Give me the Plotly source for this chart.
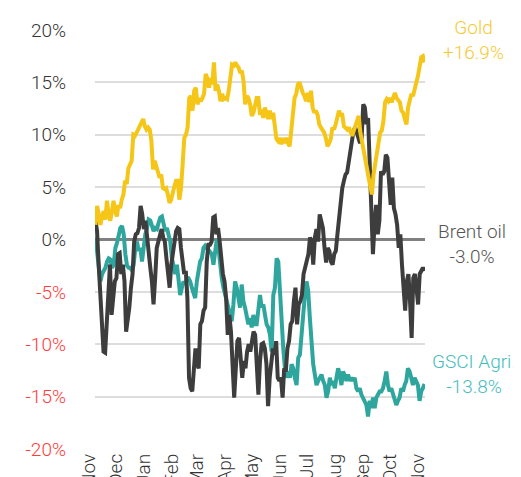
import plotly.graph_objects as go
import pandas as pd

start_date = "2018-11-01"
end_date = "2019-11-01"
month_range = ["2018-10-31 12:00", "2019-11-01 12:00"]

gold = [1.4, 3.2, 2.4, 1.4, 2.2, 2.7, 1.9, 3.7, 2.4, 1.8, 2.7, 3.7, 2.7, 2.2, 3.3, 3.0, 3.8, 4.3, 5.6, 5.3,
        6.8, 7.2, 7.5, 10.0, 9.9, 10.2, 10.5, 10.8, 11.0, 11.5, 10.8, 10.5, 10.7, 10.5, 9.4, 6.7, 7.5, 7.0, 6.2, 5.9,
        6.2, 4.9, 4.8, 4.9, 4.3, 3.5, 3.8, 4.6, 5.1, 5.6,
        5.6, 3.8, 4.9, 7.2, 9.7, 10.0, 10.7, 13.5, 13.7, 12.3, 14.2, 14.5, 12.9, 13.5, 13.2, 13.5, 13.9, 15.8, 15.4, 14.5,
        15.4, 14.8, 16.9, 14.2, 14.8, 14.2, 13.2, 13.9, 13.4, 13.5, 13.4, 14.2, 15.4, 16.7, 16.6, 16.9, 16.6, 16.4, 15.9, 16.1,
        15.1, 12.9, 13.7, 13.5, 12.9, 11.8, 12.1, 12.7, 13.5,
        13.5, 11.9, 12.4, 11.6, 12.6, 11.9, 11.5, 12.3, 11.5, 12.1, 11.0, 9.6, 9.4, 9.7, 9.1, 9.7, 9.2, 9.7, 9.2, 8.9,
        10.4, 12.6, 13.5, 13.9, 14.8, 15.0, 14.3, 14.0, 13.7, 13.2, 14.0, 13.1, 14.2, 12.6, 12.1, 12.3, 11.9, 11.0, 10.7, 10.5,
        10.2, 9.7, 8.9, 9.2, 9.6, 10.7, 10.5, 11.0, 11.5, 12.3, 11.9,
        11.9, 10.8, 10.7, 10.5, 10.7, 10.4, 9.9, 10.4, 10.8, 11.3, 11.8, 10.2, 9.4, 8.8, 8.1, 6.8, 5.9, 4.9, 4.3, 6.2,
        7.2, 7.8, 9.1, 10.2, 10.4, 11.3, 13.1, 13.4, 13.2, 13.5, 13.1, 13.5, 14.0, 13.5, 13.2, 13.1, 12.3, 12.1, 11.5, 11.0,
        12.6, 13.1, 13.9, 13.7, 14.6, 15.0, 15.6, 16.4, 17.4, 17.5, 16.9]

brent = [1.8, 0.8, -2.4, -5.6, -9.4, -10.7, -10.8, -7.8, -4.0, -2.4, -7.2, -4.9, -4.0, -3.7, -1.4, -1.3, -3.3, -2.4, -4.0, -8.8,
         -7.8, -6.5, -4.6, -3.3, -0.2, 0.5, 0.6, 1.1, 3.2, 2.4, 1.0, 1.8, 0.3, -1.8, -2.7, -4.0, -6.2, -3.7, -0.8, -0.2,
         0.5, 1.0, 0.2, -0.2, -1.8, -3.3, -4.6, -2.4, -1.4, -0.5, 0.8, 1.1,
         1.0, -0.8, -2.4, -3.3, -3.0, -5.6, -13.2, -14.2, -14.5, -12.9, -10.4, -11.9, -12.3, -8.1, -7.8, -6.8, -6.5, -2.1, -0.5, -0.5,
         -0.2, 2.1, 2.2, 0.5, 1.1, -0.2, -2.1, -3.3, -4.0, -5.6, -9.1, -7.2, -8.8, -11.3, -15.1, -12.3, -9.7, -9.4, -11.3, -13.2,
         -11.6, -12.3, -10.7, -10.0, -10.7, -9.7, -8.8, -9.1, -11.9, -14.8,
         -11.6, -10.0, -9.9, -10.4, -11.9, -15.9, -13.2, -11.3, -10.4, -11.0, -9.7, -13.2, -13.5, -13.2, -15.1, -12.3, -12.6, -10.4, -9.7, -8.1,
         -7.8, -5.9, -4.6, -8.1, -6.2, -5.9, -5.3, -3.3, -2.7, -2.1, -1.4, 0.2, -0.2, -2.4, 0.2, 1.0, -0.2, 2.4, 1.6, 1.1,
         -0.8, -2.2, -0.8, -1.1, -2.1, -2.4, -1.4, -1.1, 0.5, 2.1, 4.3,
         4.9, 5.6, 6.2, 6.4, 7.5, 8.4, 9.7, 10.4, 10.7, 10.2, 9.4, 9.2, 9.7, 12.9, 12.6, 11.0, 11.6, 6.5, 2.4, -1.4,
         1.4, 3.3, 0.5, 1.8, 6.5, 6.2, 6.5, 8.1, 7.8, 5.6, 3.3, 5.9, 3.0, 2.4, 1.4, -0.8, 0.5, -2.4, -4.9, -6.8,
         -4.0, -3.3, -5.9, -9.4, -3.7, -3.3, -4.6, -6.2, -3.3, -3.0, -2.7, -3.0]

agri = [0.2, -1.4, -3.0, -4.0, -3.3, -3.0, -2.7, -2.1, -1.8, -1.9, -2.7, -2.4, -0.8, -0.3, 0.5, 1.1, 1.3, 0.5, -1.4, -2.5,
        -2.7, -2.7, -3.0, -2.4, -0.8, -0.2, -1.1, -0.8, -2.1, -0.5, 0.5, 1.1, 1.9, 1.8, 1.4, 0.8, 1.1, 1.0, 1.6, 2.1,
        2.2, 1.4, 0.8, 1.1, 0.5, -0.2, -1.8, -2.7, -3.3, -2.4,
        -4.0, -5.3, -4.6, -4.0, -4.3, -3.7, -3.7, -4.0, -4.6, -5.3, -5.6, -4.0, -2.7, -2.1, -1.8, -0.8, -0.6, -0.8, -1.0, -1.1,
        -1.4, -2.4, -1.4, 0.0, -0.8, -2.4, -3.7, -4.6, -5.3, -5.9, -6.8, -7.5, -7.8, -6.2, -4.0, -4.6, -5.9, -6.5, -4.3, -5.9,
        -6.5, -7.2, -8.1, -7.5, -8.4, -7.2, -8.1, -8.1, -6.5,
        -5.3, -6.5, -6.2, -7.2, -8.1, -8.4, -9.1, -10.7, -5.3, -4.6, -1.8, -2.1, -5.3, -7.2, -10.4, -12.3, -13.2, -12.6, -13.2, -11.9,
        -12.3, -13.2, -13.9, -11.3, -11.0, -9.1, -6.8, -5.3, -4.0, -4.9, -7.5, -10.0, -11.9, -12.9, -13.9, -13.5, -13.2, -12.9, -13.5, -13.9,
        -15.1, -14.5, -13.2, -13.9, -13.5, -14.2, -13.2, -12.3, -12.9, -13.9,
        -12.6, -13.2, -13.5, -12.9, -13.5, -13.2, -13.5, -13.2, -14.2, -14.5, -14.2, -14.8, -15.1, -15.4, -15.8, -16.9, -15.4, -16.1, -15.1, -16.1,
        -15.1, -14.8, -14.5, -14.5, -14.2, -13.5, -12.6, -13.9, -14.5, -14.2, -14.8, -15.4, -15.8, -15.4, -15.1, -14.2, -14.5, -13.9, -13.5, -12.3,
        -12.6, -13.2, -13.9, -13.2, -13.5, -13.9, -15.4, -14.5, -14.2, -13.8]

y_ticks = [20, 15, 10, 5, 0, -5, -10, -15, -20]
y_tick_labels = ["20%", "15%", "10%", "5%", "0%", "-5%", "-10%", "-15%", "-20%"]

series_names = ["Gold", "Brent oil", "GSCI Agri."]
series_final = ["+16.9%", "-3.0%", "-13.8%"]
label_y = [19.0, -0.4, -12.8]
label_x = [1.148, 1.142, 1.148]

line_colors = ["#F5C518", "#3D3D3D", "#2EA69E"]
text_colors = ["#F7C934", "#555555", "#45BDBD"]

FONT = "Roboto, sans-serif"

fig = go.Figure()
for vals, col, name in zip([agri, brent, gold], [line_colors[2], line_colors[1], line_colors[0]],
                           [series_names[2], series_names[1], series_names[0]]):
    dates = pd.date_range(start_date, end_date, periods=len(vals))
    fig.add_trace(go.Scatter(x=dates, y=vals, mode="lines", name=name,
                             line=dict(color=col, width=4), hoverinfo="skip"))

ticktext = []
for v, t in zip(y_ticks, y_tick_labels):
    c = "#FF3B3B" if v < 0 else "#333333"
    ticktext.append(f"<span style='color:{c}'>{t}</span>")

for name, fin, yv, xv, tc in zip(series_names, series_final, label_y, label_x, text_colors):
    fig.add_annotation(xref="paper", yref="y", x=xv, y=yv, text=f"{name}<br>{fin}",
                       showarrow=False, xanchor="center", yanchor="middle", align="center",
                       font=dict(family=FONT, size=19, color=tc, weight=300))

fig.update_layout(
    width=521, height=477,
    margin=dict(l=87, r=104, t=22, b=36),
    paper_bgcolor="white", plot_bgcolor="white",
    showlegend=False,
    font=dict(family=FONT, size=19, color="#333333", weight=300),
    xaxis=dict(type="date", range=month_range, dtick="M1", tick0="2018-11-01",
               tickformat="%b", tickangle=-90, showgrid=False, zeroline=False,
               showline=False, ticks="", ticklabelstandoff=0, ticklabelshift=-7,
               automargin=False,
               tickfont=dict(family=FONT, size=19, color="#333333", weight=300)),
    yaxis=dict(range=[-20, 20], tickvals=y_ticks, ticktext=ticktext,
               showgrid=True, gridcolor="#DDDDDD", gridwidth=1.5,
               zeroline=True, zerolinecolor="#808080", zerolinewidth=3,
               showline=False, ticks="", ticklabelstandoff=28, automargin=False,
               tickfont=dict(family=FONT, size=19, weight=300)),
)

fig.write_html("out.html", config={"displayModeBar": False})
